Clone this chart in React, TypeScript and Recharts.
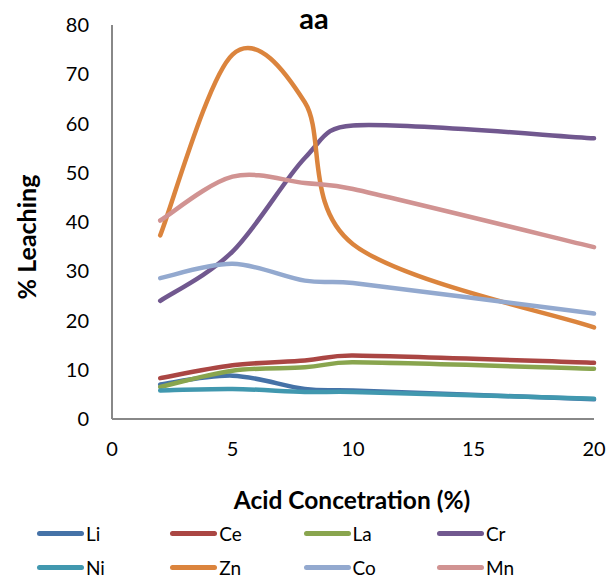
import React from "react";
import { LineChart, Line, XAxis, YAxis } from "recharts";

const acid = [2, 5, 8, 10, 20];
const li = [7.0, 8.8, 6.1, 5.8, 4.0];
const ce = [8.3, 10.9, 11.9, 12.9, 11.4];
const la = [6.5, 9.8, 10.5, 11.5, 10.2];
const cr = [24, 34, 53, 59.6, 57];
const ni = [5.8, 6.1, 5.5, 5.5, 4.1];
const zn = [37.3, 74, 64.3, 35.5, 18.6];
const co = [28.6, 31.5, 28.1, 27.6, 21.4];
const mn = [40.3, 49.2, 47.9, 46.7, 34.9];

const xTicks = [0, 5, 10, 15, 20];
const yTicks = [0, 10, 20, 30, 40, 50, 60, 70, 80];

const SERIES = [
  { key: "Li", values: li, color: "#4572A7" },
  { key: "Ce", values: ce, color: "#AA4643" },
  { key: "La", values: la, color: "#89A54E" },
  { key: "Cr", values: cr, color: "#71588F" },
  { key: "Ni", values: ni, color: "#4198AF" },
  { key: "Zn", values: zn, color: "#DB843D" },
  { key: "Co", values: co, color: "#93A9CF" },
  { key: "Mn", values: mn, color: "#D19392" },
];

const data = acid.map((x, i) => {
  const row: Record<string, number> = { x };
  SERIES.forEach((s) => (row[s.key] = s.values[i]));
  return row;
});

// Excel-like smoothed line: tangent along neighbours, handle = chord/6,
// capped at half of the segment so short segments don't loop
function excelCurve(context: any) {
  let pts: number[][] = [];
  const dist = (a: number[], b: number[]) => Math.hypot(b[0] - a[0], b[1] - a[1]);
  const handle = (from: number[], to: number[], seg: number) => {
    const d = dist(from, to);
    if (d === 0) return [0, 0];
    const len = Math.min(d / 6, seg / 2);
    return [((to[0] - from[0]) / d) * len, ((to[1] - from[1]) / d) * len];
  };
  return {
    areaStart() {},
    areaEnd() {},
    lineStart() {
      pts = [];
    },
    lineEnd() {
      if (!pts.length) return;
      context.moveTo(pts[0][0], pts[0][1]);
      for (let i = 0; i < pts.length - 1; i++) {
        const p0 = pts[i - 1] || pts[i];
        const p1 = pts[i];
        const p2 = pts[i + 1];
        const p3 = pts[i + 2] || p2;
        const seg = dist(p1, p2);
        const h1 = handle(p0, p2, seg);
        const h2 = handle(p1, p3, seg);
        context.bezierCurveTo(p1[0] + h1[0], p1[1] + h1[1], p2[0] - h2[0], p2[1] - h2[1], p2[0], p2[1]);
      }
    },
    point(x: number, y: number) {
      pts.push([+x, +y]);
    },
  };
}

const FONT = "Lato, 'Open Sans', sans-serif";
const AXIS = "#888888";

function ChartLegend() {
  return (
    <div style={{ position: "absolute", left: 0, top: 518, width: 607, height: 60 }}>
      {SERIES.map((s, i) => {
        const col = i % 4;
        const row = Math.floor(i / 4);
        return (
          <div
            key={s.key}
            style={{
              position: "absolute",
              left: 37 + col * 133.3,
              top: row * 34,
              height: 30,
              display: "flex",
              alignItems: "center",
            }}
          >
            <span
              style={{
                display: "inline-block",
                width: 47,
                height: 5,
                borderRadius: 3,
                background: s.color,
              }}
            />
            <span style={{ fontSize: 19, color: "#000", marginLeft: 2 }}>{s.key}</span>
          </div>
        );
      })}
    </div>
  );
}

export default function App() {
  return (
    <div style={{ position: "absolute", left: 0, top: 0, width: 607, height: 578, background: "#fff", fontFamily: FONT }}>
      <LineChart
        width={607}
        height={578}
        data={data}
        margin={{ top: 25, right: 13, left: 52, bottom: 135 }}
        style={{ position: "absolute", left: 0, top: 0 }}
      >
        <XAxis
          dataKey="x"
          type="number"
          domain={[0, 20]}
          ticks={xTicks}
          interval={0}
          height={24}
          axisLine={{ stroke: AXIS, strokeWidth: 2 }}
          tickLine={false}
          tickSize={0}
          tickMargin={23}
          tick={{ fill: "#000", fontSize: 20, fontFamily: FONT }}
        />
        <YAxis
          type="number"
          domain={[0, 80]}
          ticks={yTicks}
          interval={0}
          width={60}
          axisLine={{ stroke: AXIS, strokeWidth: 2 }}
          tickLine={false}
          tickSize={0}
          tickMargin={23}
          tick={{ fill: "#000", fontSize: 20, fontFamily: FONT }}
        />
        {SERIES.map((s) => (
          <Line
            key={s.key}
            dataKey={s.key}
            name={s.key}
            type={excelCurve as any}
            stroke={s.color}
            strokeWidth={4.5}
            strokeLinecap="round"
            dot={false}
            activeDot={false}
            isAnimationActive={false}
          />
        ))}
      </LineChart>
      <div
        style={{
          position: "absolute",
          left: 0,
          width: 628,
          top: 0,
          textAlign: "center",
          fontSize: 29,
          fontWeight: 700,
          lineHeight: "36px",
        }}
      >
        aa
      </div>
      <div
        style={{
          position: "absolute",
          left: 26,
          top: 237,
          transform: "translate(-50%, -50%) rotate(-90deg)",
          whiteSpace: "nowrap",
          fontSize: 25,
          fontWeight: 700,
        }}
      >
        % Leaching
      </div>
      <div
        style={{
          position: "absolute",
          left: 352,
          top: 499,
          transform: "translate(-50%, -50%)",
          whiteSpace: "nowrap",
          fontSize: 24.5,
          fontWeight: 700,
        }}
      >
        Acid Concetration (%)
      </div>
      <ChartLegend />
    </div>
  );
}
